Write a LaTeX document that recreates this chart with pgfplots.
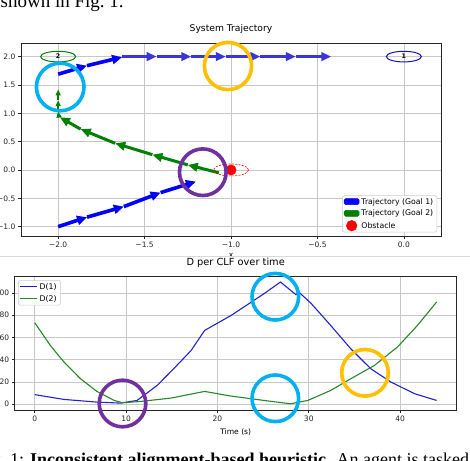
\documentclass[border=0pt]{standalone}
\usepackage{pgfplots}
\pgfplotsset{compat=1.18}
\usepackage{fontspec}
\setmainfont{DejaVu Sans}
\newfontfamily\capfont{Liberation Serif}
\usetikzlibrary{arrows.meta}
\definecolor{mplblue}{rgb}{0,0,1}
\definecolor{hblue}{RGB}{55,55,215}
\definecolor{mplgreen}{rgb}{0,0.5,0}
\definecolor{navyell}{RGB}{20,20,170}
\definecolor{d1col}{RGB}{35,35,205}
\definecolor{d2col}{RGB}{40,135,40}
\definecolor{ocyan}{RGB}{0,176,240}
\definecolor{oorange}{RGB}{255,192,0}
\definecolor{opurple}{RGB}{112,48,160}
\definecolor{gridgray}{RGB}{200,200,200}

\pgfdeclareplotmark{goalell}{%
  \pgfpathellipse{\pgfpointorigin}{\pgfqpoint{17.5pt}{0pt}}{\pgfqpoint{0pt}{5.3pt}}%
  \pgfusepathqstroke}
\pgfdeclareplotmark{obsell}{%
  \pgfpathellipse{\pgfpointorigin}{\pgfqpoint{17.5pt}{0pt}}{\pgfqpoint{0pt}{6pt}}%
  \pgfusepathqstroke}

\pgfplotsset{
  mplstyle/.style={
    scale only axis,
    axis line style={black!85, line width=0.6pt},
    grid=major,
    major grid style={gridgray, line width=0.6pt},
    tick align=outside,
    tick pos=left,
    major tick length=2.7pt,
    every tick/.style={black!85, line width=0.6pt},
    tick label style={font=\fontsize{7.5}{9}\selectfont, text=black!85},
    /pgf/number format/assume math mode=true,
    yticklabel style={anchor=east, inner sep=0pt, xshift=-2.7pt},
    xticklabel style={anchor=north, inner sep=0pt, yshift=-2.7pt},
    legend cell align=left,
  },
}

\begin{document}
\begin{tikzpicture}
\useasboundingbox (0pt,0pt) rectangle (470pt,460pt);
\fill[white] (0pt,0pt) rectangle (470pt,460pt);
\clip (0pt,0pt) rectangle (470pt,460pt);

% caption fragment at top
\node[anchor=base west, inner sep=0pt, font=\capfont\fontsize{19}{22}\selectfont] at (0.5pt,452pt) {shown in Fig.~1.};

% ---------------- top axis ----------------
\begin{axis}[mplstyle,
  at={(21pt,224pt)}, anchor=south west,
  width=420pt, height=193pt,
  xmin=-2.215, xmax=0.215, ymin=-1.165, ymax=2.24,
  xtick={-2,-1.5,-1,-0.5,0}, xticklabels={−2.0,−1.5,−1.0,−0.5,0.0},
  ytick={-1,-0.5,0,0.5,1,1.5,2}, yticklabels={−1.0,−0.5,0.0,0.5,1.0,1.5,2.0},
  title={System Trajectory},
  title style={font=\fontsize{9.2}{11}\selectfont, at={(0.5,1)}, anchor=base, yshift=5.7pt, inner sep=0pt},
  xlabel={x},
  xlabel style={font=\fontsize{7.5}{9}\selectfont, at={(0.5,0)}, anchor=north, yshift=-17pt, inner sep=0pt},
  legend style={font=\fontsize{7.75}{9}\selectfont, draw=black!20, line width=0.5pt,
    rounded corners=1.5pt, fill=white,
    at={(1,0)}, anchor=south east, xshift=-4pt, yshift=3.5pt,
    inner xsep=1.5pt, inner ysep=1pt, row sep=2pt,
    nodes={inner xsep=2pt, inner ysep=0pt, text height=7.5pt, text depth=2.2pt, anchor=west}},
]
% legend entries
\addlegendimage{legend image code/.code={\fill[mplblue] (0pt,-3pt) rectangle (15pt,3pt);}}
\addlegendentry{Trajectory (Goal 1)}
\addlegendimage{legend image code/.code={\fill[mplgreen] (0pt,-3pt) rectangle (15pt,3pt);}}
\addlegendentry{Trajectory (Goal 2)}
\addlegendimage{legend image code/.code={\fill[red] (7.5pt,0pt) circle (5.3pt);}}
\addlegendentry{Obstacle}

% goals
\addplot[only marks, mark=goalell, mplgreen, mark options={line width=1pt},
  nodes near coords={\textbf{2}},
  every node near coord/.style={anchor=center, inner sep=0pt, font=\fontsize{6.3}{7}\selectfont, text=black},
  forget plot] coordinates {(-2,2)};
\addplot[only marks, mark=goalell, navyell, mark options={line width=1pt},
  nodes near coords={\textbf{1}},
  every node near coord/.style={anchor=center, inner sep=0pt, font=\fontsize{6.3}{7}\selectfont, text=black},
  forget plot] coordinates {(0,2)};

% obstacle
\addplot[only marks, mark=obsell, red, mark options={line width=0.6pt, dash pattern=on 2pt off 1.3pt}, forget plot]
  coordinates {(-1,0)};
\addplot[only marks, mark=*, mark size=5.2pt, red, mark options={draw=none}, forget plot]
  coordinates {(-1,0)};

% blue trajectory, first part
\addplot[mplblue, line width=3.6pt, -{Triangle[length=10pt,width=9pt]},
  quiver={u=\thisrow{u}, v=\thisrow{v}}, forget plot] table {
x y u v
-2.000 -1.000 0.167 0.167
-1.833 -0.833 0.213 0.187
-1.620 -0.646 0.213 0.247
-1.407 -0.399 0.204 0.194
};

% green trajectory
\addplot[mplgreen, line width=3pt, -{Triangle[length=10pt,width=8.5pt]},
  quiver={u=\thisrow{u}, v=\thisrow{v}}, forget plot] table {
x y u v
-1.070 -0.050 -0.180 0.140
-1.250 0.090 -0.205 0.180
-1.455 0.270 -0.215 0.200
-1.670 0.470 -0.200 0.250
-1.870 0.720 -0.120 0.210
};
\addplot[mplgreen, line width=1.5pt, -{Triangle[length=6pt,width=5pt]},
  quiver={u=\thisrow{u}, v=\thisrow{v}}, forget plot] table {
x y u v
-1.995 0.930 -0.005 0.100
-2.000 1.030 0.000 0.200
-2.000 1.230 0.000 0.190
};

% blue trajectory, second part
\addplot[mplblue, line width=3.6pt, -{Triangle[length=10pt,width=9pt]},
  quiver={u=\thisrow{u}, v=\thisrow{v}}, forget plot] table {
x y u v
-2.000 1.690 0.167 0.150
-1.833 1.840 0.203 0.150
};
\addplot[hblue, line width=3.2pt, -{Triangle[length=10pt,width=8.5pt]},
  quiver={u=\thisrow{u}, v=\thisrow{v}}, forget plot] table {
x y u v
-1.630 2.000 0.200 0
-1.430 2.000 0.200 0
-1.230 2.000 0.200 0
-1.030 2.000 0.200 0
-0.830 2.000 0.205 0
-0.625 2.000 0.205 0
};
\end{axis}

% the lower picture covers the top x label
\fill[white] (0pt,0pt) rectangle (470pt,203.6pt);
\draw[black!15, line width=0.8pt] (0pt,204pt) -- (470pt,204pt);

% ---------------- bottom axis ----------------
\begin{axis}[mplstyle,
  at={(14.7pt,50pt)}, anchor=south west,
  width=442pt, height=134pt,
  xmin=-2.2, xmax=46.2, ymin=-5.3, ymax=115.1,
  xtick={0,10,20,30,40}, ytick={0,20,40,60,80,100},
  title={D per CLF over time},
  title style={font=\fontsize{9.8}{11}\selectfont, at={(0.5,1)}, anchor=base, yshift=5pt, inner sep=0pt},
  xlabel={Time (s)},
  xlabel style={font=\fontsize{7.6}{9}\selectfont, at={(0.5,0)}, anchor=base, yshift=-24pt, inner sep=0pt},
  legend style={font=\fontsize{7.8}{9}\selectfont, draw=black!20, line width=0.5pt,
    rounded corners=1.5pt, fill=white,
    at={(0,1)}, anchor=north west, xshift=3.5pt, yshift=-4pt,
    inner xsep=1.5pt, inner ysep=1.5pt, row sep=2.5pt,
    nodes={inner xsep=2.5pt, inner ysep=0pt, text height=7.5pt, text depth=2.2pt, anchor=west}},
  legend image code/.code={\draw[#1, line width=1.1pt] (0pt,0pt) -- (16pt,0pt);},
]
\addplot[d1col, line width=1.1pt] table {
t D
0.0 8.5
3.2 4.2
6.8 1.8
9.4 0.9
11.2 3.3
13.4 16.8
15.2 31.7
17.1 48.0
18.6 66.2
21.5 79.7
25.1 99.2
26.9 109.7
28.6 98.3
28.9 100.7
30.2 91.0
32.4 70.7
34.6 49.7
36.8 31.7
39.0 19.8
41.6 9.3
44.0 3.3
};
\addlegendentry{D(1)}
\addplot[d2col, line width=1.1pt] table {
t D
0.0 73.1
1.7 52.7
3.2 37.8
5.0 22.8
6.8 11.4
8.7 3.3
9.6 1.2
11.6 2.4
14.9 5.4
18.6 11.4
21.5 7.2
25.1 3.3
28.0 0.3
29.9 3.3
32.4 12.3
34.6 22.8
37.2 34.8
39.7 51.2
41.9 70.7
44.0 91.7
};
\addlegendentry{D(2)}
\end{axis}

% caption fragment at bottom
\node[anchor=base west, inner sep=0pt, font=\capfont\fontsize{18}{22}\selectfont] at (-23pt,-5.5pt)
  {Fig.~1: \textbf{Inconsistent alignment-based heuristic.} An agent is tasked};

% highlight rings drawn over the figure
\begin{scope}[line width=3.6pt]
\draw[ocyan] (60.2pt,373pt) circle (23.8pt);
\draw[oorange] (228pt,394pt) circle (23.6pt);
\draw[opurple] (202.8pt,287.8pt) circle (23.3pt);
\draw[opurple] (122.5pt,56.5pt) circle (23.3pt);
\draw[ocyan] (275.3pt,163.3pt) circle (23.3pt);
\draw[ocyan] (275.3pt,61.7pt) circle (23.3pt);
\draw[oorange] (365pt,87.2pt) circle (23.3pt);
\end{scope}
\end{tikzpicture}
\end{document}
